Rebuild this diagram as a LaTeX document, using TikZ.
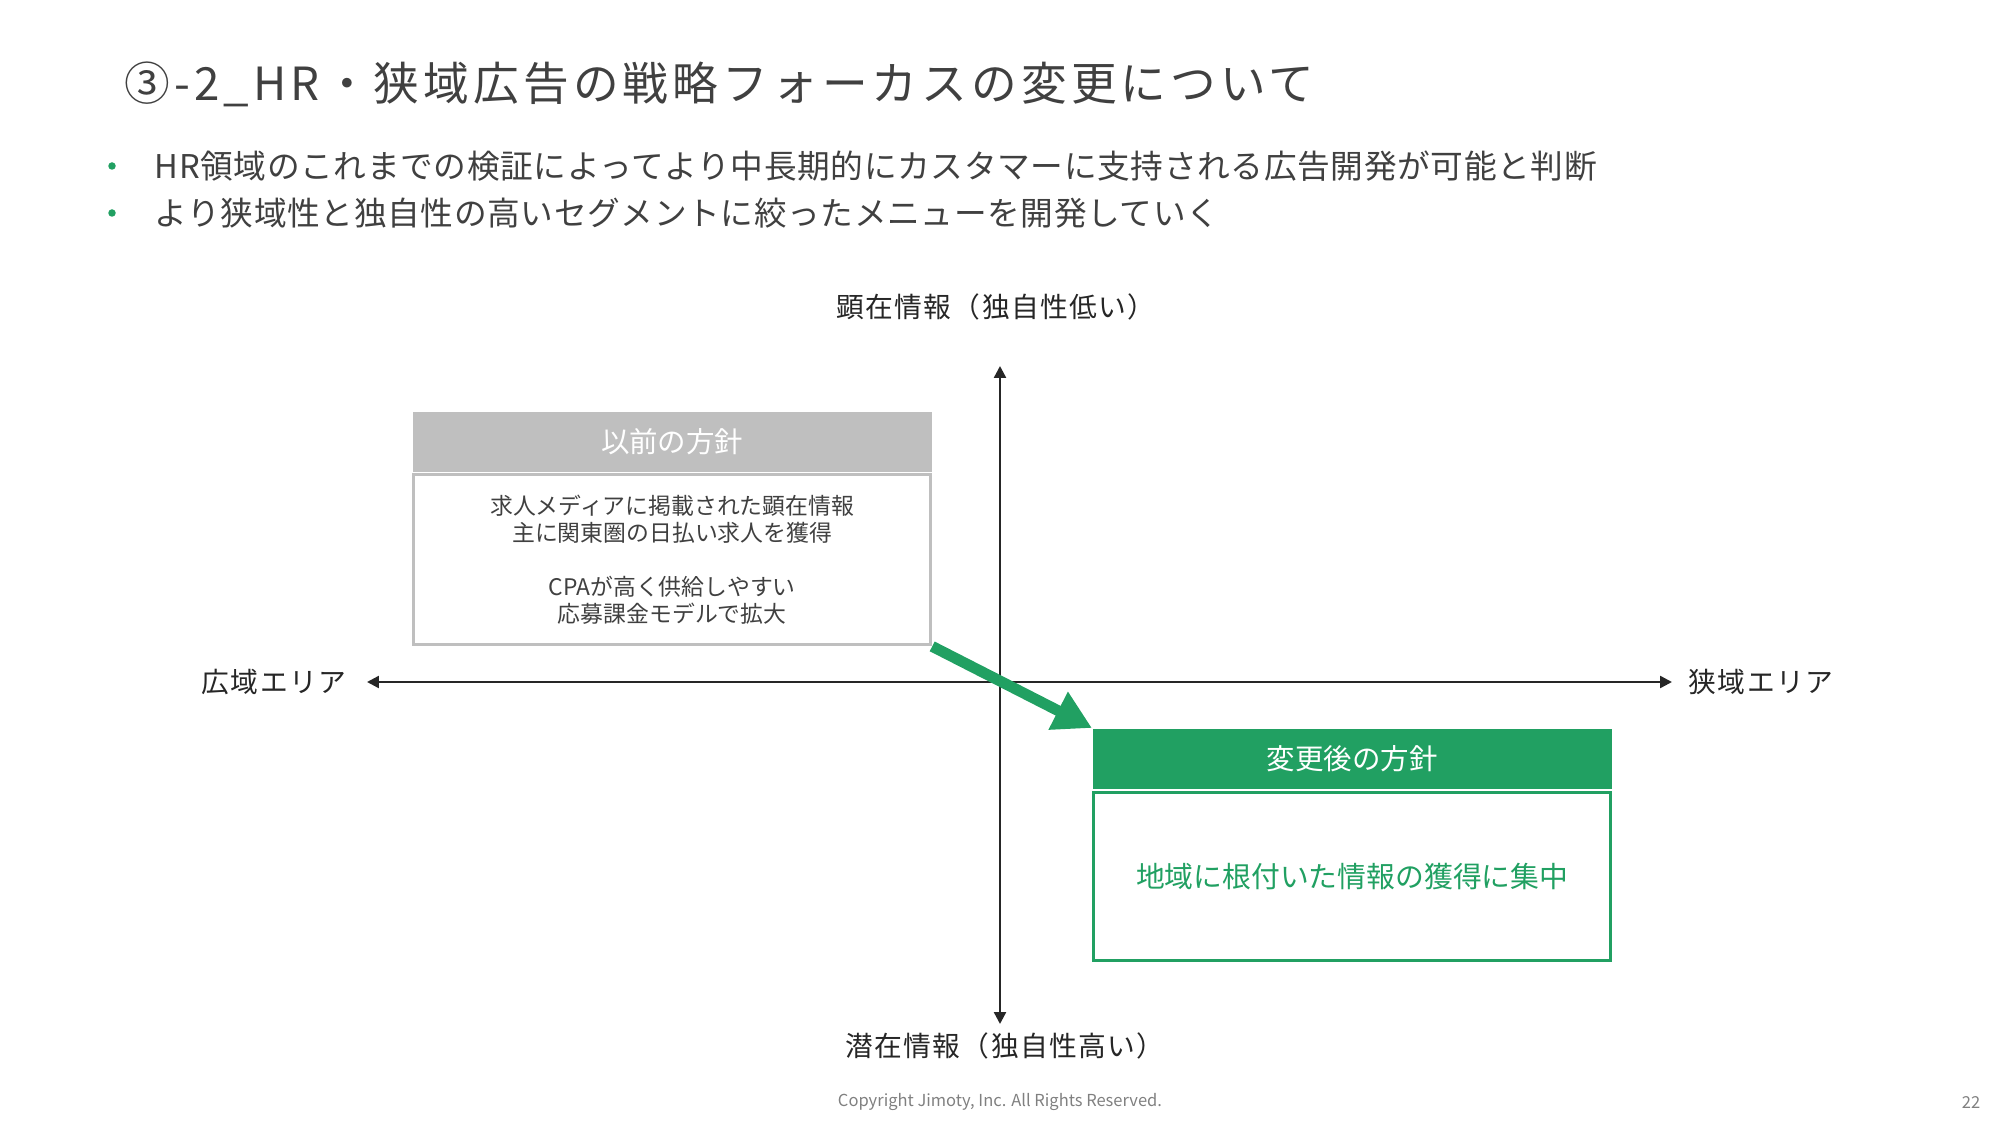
\documentclass[tikz,border=0pt]{standalone}
\usepackage{fontspec}
\setmainfont{Noto Sans CJK JP}
\usetikzlibrary{positioning}
\usetikzlibrary{arrows.meta}
\definecolor{jgreen}{HTML}{21A062}
\definecolor{hdgray}{HTML}{BFBFBF}
\definecolor{txtgray}{HTML}{404040}

\begin{document}
\begin{tikzpicture}[
        axis/.style={{Triangle[length=3.4pt,width=3.4pt]}-{Triangle[length=3.4pt,width=3.4pt]}, line width=0.7pt, draw=black!85},
        axlabel/.style={font=\fontsize{7.9pt}{9pt}\selectfont\addfontfeature{LetterSpace=5}, text=black!85},
        bullet/.style={circle, fill=jgreen, inner sep=0pt, minimum size=0.075cm},
        line/.style={anchor=west, inner sep=0pt, font=\fontsize{9.3pt}{11pt}\selectfont\addfontfeature{LetterSpace=2}, text=txtgray},
        head/.style={inner sep=0pt, minimum width=5.19cm, minimum height=0.60cm, text=white, font=\fontsize{8.1pt}{9pt}\selectfont},
        body/.style={inner sep=0pt, minimum width=5.17cm, align=center}
    ]
        \useasboundingbox (0,0) rectangle (20,11.25);

        % title and bullets
        \node(title) [anchor=west, inner sep=0pt, font=\fontsize{13pt}{15pt}\selectfont\addfontfeature{LetterSpace=9}, text=txtgray] at (1.24,10.41) {③-2\_HR・狭域広告の戦略フォーカスの変更について};
        \node(b1) [bullet] at (1.12,9.59) {};
        \node(b2) [bullet] at (1.12,9.12) {};
        \node(t1) [line] at (1.54,9.59) {HR領域のこれまでの検証によってより中長期的にカスタマーに支持される広告開発が可能と判断};
        \node(t2) [line] at (1.54,9.12) {より狭域性と独自性の高いセグメントに絞ったメニューを開発していく};

        % axes
        \coordinate(ytop) at (10.00,7.59);
        \coordinate(ybot) at (10.00,1.01);
        \coordinate(xleft) at (3.67,4.43);
        \coordinate(xright) at (16.72,4.43);
        \draw[axis] (ybot) -- (ytop);
        \draw[axis] (xleft) -- (xright);
        \node(top) [axlabel] at (9.96,8.18) {顕在情報（独自性低い）};
        \node(bot) [axlabel] at (10.05,0.79) {潜在情報（独自性高い）};
        \node(left) [axlabel] at (2.74,4.43) {広域エリア};
        \node(right) [axlabel] at (17.61,4.43) {狭域エリア};

        % old policy
        \node(oldhead) [head, fill=hdgray, anchor=north west] at (4.12,7.14) {以前の方針};
        \node(oldbody) [body, below=0.01cm of oldhead, draw=hdgray, line width=0.85pt, minimum height=1.70cm,
            text=txtgray, font=\fontsize{6.5pt}{7.7pt}\selectfont]
            {求人メディアに掲載された顕在情報\\主に関東圏の日払い求人を獲得\\[7.7pt]CPAが高く供給しやすい\\応募課金モデルで拡大};

        % new policy
        \node(newhead) [head, fill=jgreen, anchor=north west] at (10.92,3.97) {変更後の方針};
        \node(newbody) [body, below=0.02cm of newhead, draw=jgreen, line width=0.8pt, minimum height=1.68cm,
            text=jgreen, font=\fontsize{8.2pt}{9pt}\selectfont]
            {地域に根付いた情報の獲得に集中};

        \draw[-{Triangle[length=0.38cm,width=0.40cm]}, draw=jgreen, fill=jgreen, line width=3.1pt] (oldbody.south east) -- (newhead.north west);

        % footer
        \node(copy) [font=\fontsize{4.7pt}{5pt}\selectfont, text=black!50] at (10.00,0.23) {Copyright Jimoty, Inc. All Rights Reserved.};
        \node(page) [font=\fontsize{4.7pt}{5pt}\selectfont, text=black!50] at (19.71,0.23) {22};
    \end{tikzpicture}
\end{document}
